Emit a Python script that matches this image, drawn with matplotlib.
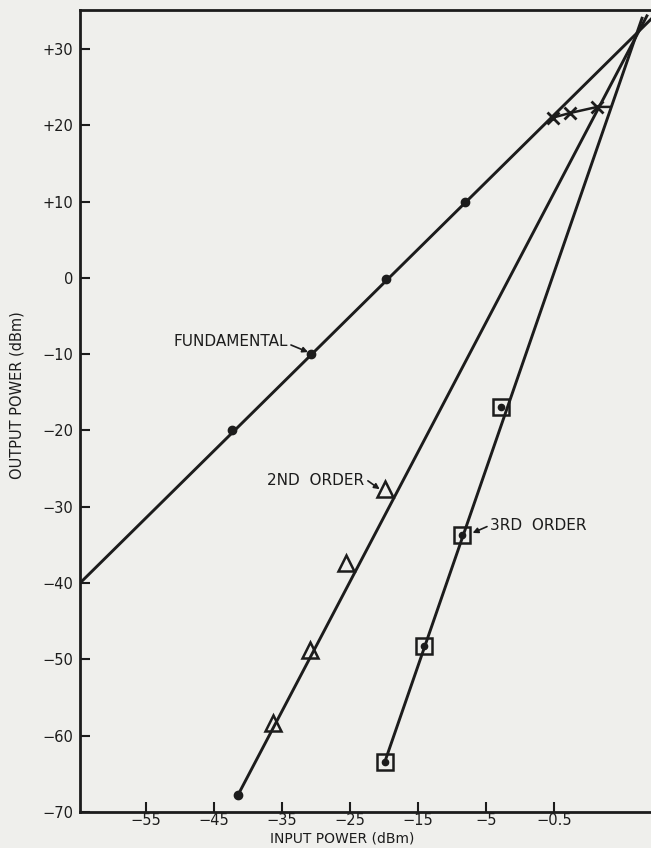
import matplotlib
matplotlib.use('Agg')
import matplotlib.pyplot as plt

# Ticks and labels
x_ticks = [-55, -45, -35, -25, -15, -5, 5]
x_tick_labels = ['\u221255', '\u221245', '\u221235', '\u221225', '\u221215', '\u22125', '\u22120.5']
y_ticks = [30, 20, 10, 0, -10, -20, -30, -40, -50, -60, -70]
y_tick_labels = ['+30', '+20', '+10', '0', '\u221210', '\u221220', '\u221230',
                 '\u221240', '\u221250', '\u221260', '\u221270']

# Fundamental: measured points and drawn line
fund_x = [-42.3, -30.8, -19.7, -8.2]
fund_y = [-20.0, -10.0, -0.1, 10.0]
fund_line_x = [-64.7, 20.0]
fund_line_y = [-40.0, 34.6]

# compression points near saturation
comp_x = [4.8, 7.3, 11.3]
comp_y = [21.0, 21.6, 22.4]
comp_curve_x = [4.8, 7.3, 11.3, 13.2]
comp_curve_y = [21.0, 21.6, 22.4, 22.4]

# 2nd order
second_x = [-36.3, -30.9, -25.65, -19.9]
second_y = [-58.3, -48.8, -37.4, -27.7]
second_line_x = [-41.5, 18.7]
second_line_y = [-67.8, 34.5]

# 3rd order
third_x = [-19.9, -14.1, -8.5, -2.9]
third_y = [-63.4, -48.3, -33.7, -16.9]
third_line_x = [-19.9, 17.95]
third_line_y = [-63.4, 34.2]

ink = '#1c1c1c'
paper = '#efefec'

fig = plt.figure(figsize=(6.51, 8.48), dpi=100, facecolor=paper)
ax = fig.add_axes([80 / 651, 36 / 848, 571 / 651, 802 / 848], facecolor=paper)
ax.set_xlim(-64.7, 19.2)
ax.set_ylim(-70, 35.1)

# lines
ax.plot(fund_line_x, fund_line_y, color=ink, lw=2.1, solid_capstyle='butt')
ax.plot(second_line_x, second_line_y, color=ink, lw=2.1, solid_capstyle='butt')
ax.plot(third_line_x, third_line_y, color=ink, lw=2.1, solid_capstyle='butt')
ax.plot(comp_curve_x, comp_curve_y, color=ink, lw=1.8)

# markers
ax.plot(fund_x, fund_y, 'o', color=ink, ms=6)
ax.plot(comp_x, comp_y, 'x', color=ink, ms=9, mew=2)
ax.plot(second_line_x[0], second_line_y[0], 'o', color=ink, ms=6)
ax.plot(second_x, second_y, '^', mfc='none', mec=ink, ms=11, mew=1.8)
ax.plot(third_x, third_y, 's', mfc='none', mec=ink, ms=12, mew=1.8)
ax.plot(third_x, third_y, 'o', color=ink, ms=4.5)

# labels on the curves
arrow = dict(arrowstyle='-|>', color=ink, lw=1.2, mutation_scale=8, shrinkA=0, shrinkB=1)
ax.text(-50.9, -8.4, 'FUNDAMENTAL', fontsize=11, color=ink, ha='left', va='center')
ax.annotate('', xy=(-31.0, -9.8), xytext=(-33.7, -8.8), arrowprops=arrow)
ax.text(-37.2, -26.5, '2ND  ORDER', fontsize=11, color=ink, ha='left', va='center')
ax.annotate('', xy=(-20.5, -27.8), xytext=(-22.4, -26.6), arrowprops=arrow)
ax.text(-4.4, -32.4, '3RD  ORDER', fontsize=11, color=ink, ha='left', va='center')
ax.annotate('', xy=(-7.2, -33.5), xytext=(-4.9, -32.6), arrowprops=arrow)

# axes styling
for side in ['left', 'bottom', 'top']:
    ax.spines[side].set_linewidth(2.0)
    ax.spines[side].set_color(ink)
ax.spines['right'].set_visible(False)
ax.set_xticks(x_ticks)
ax.set_xticklabels(x_tick_labels)
ax.set_yticks(y_ticks)
ax.set_yticklabels(y_tick_labels)
ax.tick_params(direction='in', length=7, width=1.5, color=ink, labelcolor=ink,
               labelsize=10.5, pad=5)
ax.tick_params(axis='x', pad=1)
ax.set_xlabel('INPUT POWER (dBm)', fontsize=10, color=ink)
ax.set_ylabel('OUTPUT POWER (dBm)', fontsize=10.5, color=ink)
ax.xaxis.set_label_coords(0.459, -0.0245)
ax.yaxis.set_label_coords(-0.097, 0.52)

fig.savefig('out.png', dpi=100, facecolor=paper)
